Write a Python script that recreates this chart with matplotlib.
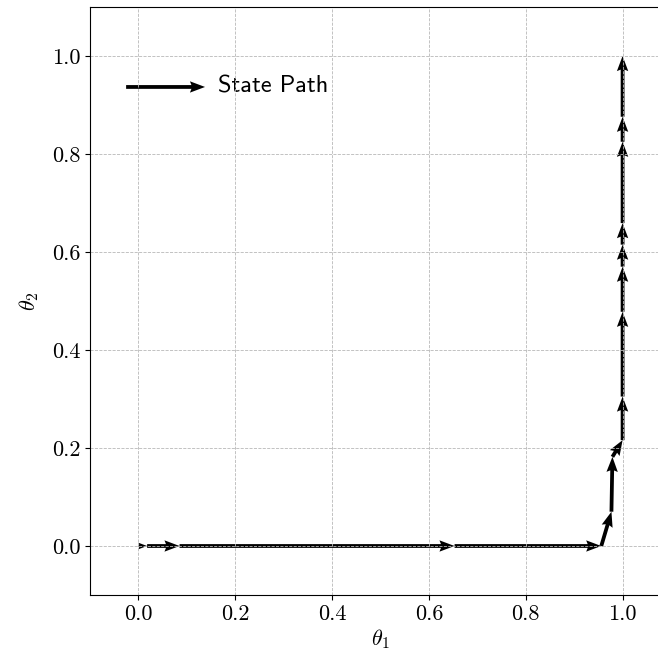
import numpy as np
import matplotlib
matplotlib.use("Agg")
import matplotlib.pyplot as plt

plt.rcParams["font.family"] = "serif"
plt.rcParams["font.serif"] = ["cmr10"]
plt.rcParams["mathtext.fontset"] = "cm"
plt.rcParams["axes.formatter.use_mathtext"] = True

# state path
theta1_path = [0.0, 0.018, 0.085, 0.653, 0.956, 0.977, 0.979, 1.0,
               1.0, 1.0, 1.0, 1.0, 1.0, 1.0, 1.0, 1.0]
theta2_path = [0.0, 0.0, 0.0, 0.0, 0.0, 0.07, 0.182, 0.216,
               0.305, 0.478, 0.570, 0.615, 0.659, 0.825, 0.876, 1.0]

ticks = [0.0, 0.2, 0.4, 0.6, 0.8, 1.0]

x = np.array(theta1_path)
y = np.array(theta2_path)

fig = plt.figure(figsize=(6.58, 6.58), dpi=100)
ax = fig.add_axes([90 / 658, 63 / 658, 581 / 658, 588 / 658])

q = ax.quiver(x[:-1], y[:-1], np.diff(x), np.diff(y),
              angles="xy", scale_units="xy", scale=1,
              color="black", width=0.0065,
              headwidth=3, headlength=4, headaxislength=3.6)

ax.quiverkey(q, 0.198, 0.864, 0.163, "State Path", labelpos="E",
             coordinates="axes", labelsep=0.13,
             fontproperties={"family": "cmss10", "size": 17.5})

ax.set_xlim(-0.1, 1.1)
ax.set_ylim(-0.1, 1.1)
ax.set_xticks(ticks)
ax.set_yticks(ticks)
ax.set_xticklabels([f"{t:.1f}" for t in ticks])
ax.set_yticklabels([f"{t:.1f}" for t in ticks])
ax.tick_params(labelsize=16)
ax.grid(True, linestyle="--", linewidth=0.6, color="#b8b8b8")

ax.set_xlabel(r"$\theta_1$", fontsize=16, labelpad=2)
ax.set_ylabel(r"$\theta_2$", fontsize=16, labelpad=8)

fig.savefig("out.png", dpi=100)
